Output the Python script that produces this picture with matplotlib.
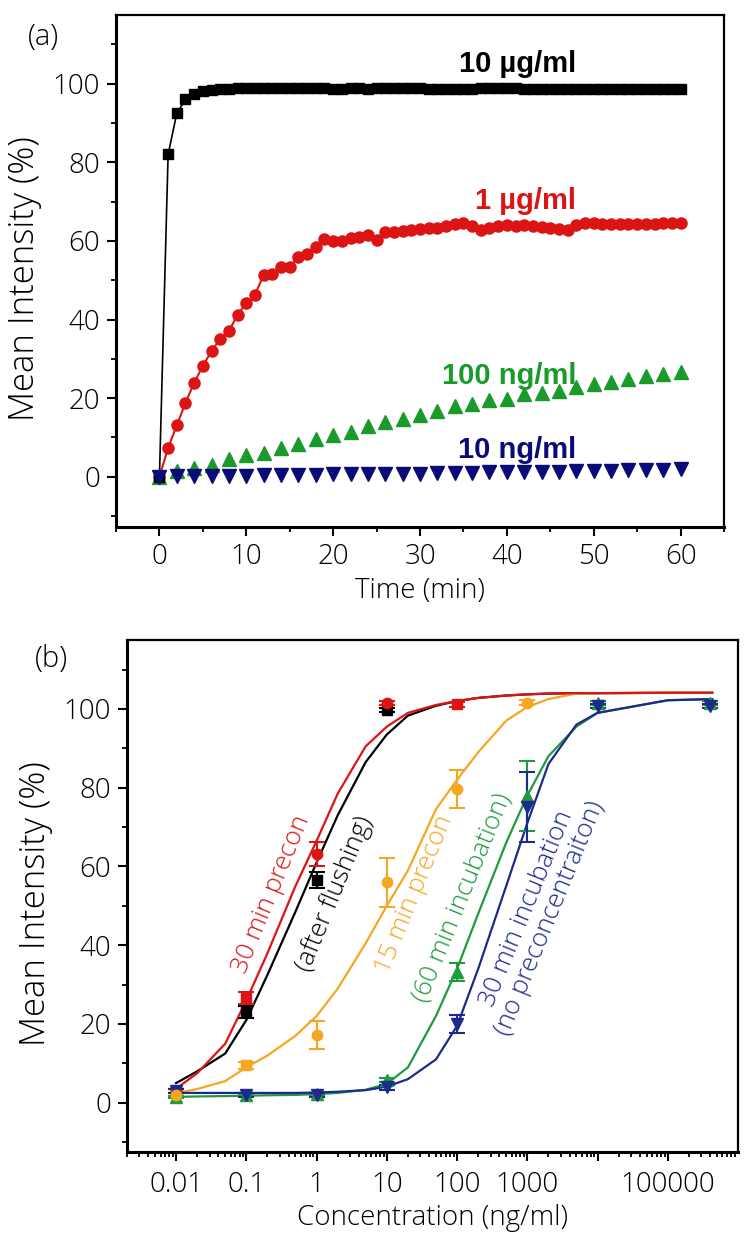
import numpy as np
import matplotlib
matplotlib.use("Agg")
import matplotlib.pyplot as plt
from matplotlib.ticker import MultipleLocator, LogLocator, FixedLocator, NullFormatter

# ---------------- data: panel (a) ----------------
t_1min = list(range(0, 61))
t_2min = list(range(0, 61, 2))

y_10ug = [0, 82, 92.5, 96, 97.5, 98.2, 98.5, 98.6, 98.7, 98.8, 98.8, 98.8, 98.9, 98.8, 98.8, 98.8,
          98.9, 98.8, 98.8, 98.8, 98.7, 98.7, 98.8, 98.8, 98.7, 98.8, 98.8, 98.8, 98.8, 98.8, 98.8,
          98.7, 98.7, 98.7, 98.7, 98.7, 98.7, 98.8, 98.8, 98.8, 98.8, 98.8, 98.7, 98.7, 98.7, 98.7,
          98.7, 98.7, 98.7, 98.7, 98.7, 98.7, 98.7, 98.7, 98.6, 98.6, 98.6, 98.6, 98.6, 98.6, 98.6]
y_1ug = [0, 7.3, 13.1, 18.8, 23.9, 28.2, 32.0, 35.0, 37.1, 41.2, 44.1, 46.3, 51.4, 51.6, 53.4, 53.4,
         56.0, 56.7, 58.5, 60.5, 59.9, 60.1, 60.8, 61.1, 61.6, 60.3, 62.2, 62.2, 62.6,
         62.8, 63.0, 63.2, 63.4, 63.8, 64.2, 64.5, 63.8, 62.8, 63.3, 63.8, 64.0, 63.9, 64.0, 63.8,
         63.6, 63.4, 63.0, 62.8, 64.0, 64.6, 64.5, 64.3, 64.2, 64.3, 64.4, 64.3, 64.2, 64.4, 64.6,
         64.6, 64.5]
y_100ng = [0, 1.4, 2.2, 3.1, 4.4, 5.5, 6.1, 7.3, 8.2, 9.5, 10.6, 11.4, 12.9, 14.0, 14.8, 15.7,
           16.7, 18.0, 18.4, 19.4, 19.7, 21.1, 21.4, 21.8, 22.8, 23.5, 24.2, 24.8, 25.6, 26.2, 26.7]
y_10ng = [0, 0.1, 0.2, 0.2, 0.3, 0.3, 0.4, 0.4, 0.5, 0.5, 0.6, 0.6, 0.7, 0.7, 0.8, 0.8, 0.9, 1.0,
          1.0, 1.1, 1.1, 1.2, 1.3, 1.3, 1.4, 1.5, 1.5, 1.6, 1.7, 1.8, 1.9]
labels_a = ["10 \u00b5g/ml", "1 \u00b5g/ml", "100 ng/ml", "10 ng/ml"]

# ---------------- data: panel (b) ----------------
conc = [0.01, 0.1, 1, 10, 100, 1000, 1e4, 4e5]

red_x = [0.01, 0.1, 1, 10, 100]
red_y = [3.0, 26.7, 63.2, 101.6, 101.2]
red_e = [0.5, 1.5, 3.0, 0.5, 0.6]
red_m = ['o', 's', 'o', 'o', 's']

blk_x = [0.01, 0.1, 1, 10]
blk_y = [3.0, 23.1, 56.6, 99.7]
blk_e = [0.5, 1.5, 2.0, 0.5]

org_x = [0.01, 0.1, 1, 10, 100, 1000]
org_y = [1.9, 9.5, 17.2, 56.0, 79.7, 101.6]
org_e = [0.5, 0.8, 3.6, 6.2, 4.8, 0.6]
org_m = ['o', 's', 'o', 'o', 'o', 'o']

grn_x = conc
grn_y = [1.5, 2.0, 2.2, 5.7, 33.2, 78.0, 101.6, 101.6]
grn_e = [0.3, 0.3, 0.3, 0.5, 2.3, 8.9, 0.5, 0.5]

blu_x = conc
blu_y = [3.0, 1.9, 2.0, 3.9, 20.1, 75.0, 100.8, 100.8]
blu_e = [0.5, 0.5, 0.5, 0.6, 2.3, 8.9, 0.5, 0.5]

# fitted curves
fit_x = [0.01, 0.02, 0.05, 0.1, 0.2, 0.5, 1, 2, 5, 10, 20, 50, 100, 200, 500, 1000, 2000, 5000,
         1e4, 1e5, 4.3e5]
fit_red = [3.6, 7.5, 15, 26, 38, 55, 66.5, 78.5, 90.5, 95.5, 99, 101, 102, 102.8, 103.4, 103.7,
           103.9, 104, 104, 104.1, 104.1]
fit_blk = [5.0, 8.0, 12.5, 21, 32.5, 48.5, 61, 73, 86.5, 93.5, 98.3, 100.8, 102, 102.8, 103.4,
           103.7, 103.9, 104, 104, 104.1, 104.1]
fit_org = [2.4, 3.5, 5.5, 9, 12, 17, 22, 29, 40.5, 50, 59, 74.5, 82, 89, 97, 100.5, 102.5, 103.9,
           104, 104.1, 104.1]
fit_grn = [1.5, 1.6, 1.7, 1.8, 1.9, 2.0, 2.2, 2.5, 3.3, 4.8, 9, 22, 34, 48, 66, 78, 88, 95.5, 99,
           102.2, 102.5]
fit_blu = [2.5, 2.5, 2.5, 2.5, 2.5, 2.5, 2.6, 2.8, 3.2, 4.1, 6, 11, 19.5, 34, 55, 71, 86, 96, 99,
           102.2, 102.5]
labels_b = ["30 min precon", "(after flushing)", "15 min precon", "(60 min incubation)",
            "30 min incubation\n(no preconcentraiton)"]

# ---------------- style ----------------
plt.rcParams['font.family'] = ['Open Sans', 'DejaVu Sans']
plt.rcParams['font.weight'] = 'light'
plt.rcParams['axes.labelweight'] = 'light'
TICKFS = 20
C_RED = '#dc1414'
C_GRN_A = '#1a9a2a'
C_NAV_A = '#0a0a78'
C_ORG = '#f5a623'
C_GRN_B = '#1f9a3c'
C_BLU_B = '#1c2a8c'
BOLD = ['Liberation Sans', 'DejaVu Sans']

fig = plt.figure(figsize=(7.52, 12.45), dpi=100)
axA = fig.add_axes([116/752, 1-527/1245, 608/752, 512/1245])
axB = fig.add_axes([127/752, 1-1152/1245, 611/752, 512/1245])


def style_axes(ax):
    for side in ['left', 'bottom']:
        ax.spines[side].set_linewidth(2.2)
    for side in ['top', 'right']:
        ax.spines[side].set_linewidth(1.6)
    ax.tick_params(which='major', direction='out', length=6.5, width=1.5, labelsize=TICKFS,
                   top=False, right=False, pad=5)
    ax.tick_params(which='minor', direction='out', length=3.8, width=1.3, top=False, right=False)


# ---------------- panel (a) ----------------
axA.plot(t_1min, y_1ug, '-', color=C_RED, lw=1.5, marker='o', ms=8, mec=C_RED, mfc=C_RED, zorder=3)
axA.plot(t_1min, y_10ug, '-', color='black', lw=1.2, marker='s', ms=7.5, mec='black', mfc='black', zorder=4)
axA.plot(t_2min, y_100ng, ls='none', marker='^', ms=9.5, color=C_GRN_A, zorder=3)
axA.plot(t_2min, y_10ng, ls='none', marker='v', ms=9.5, color=C_NAV_A, zorder=5)

axA.set_xlim(-5, 65)
axA.set_ylim(-12.8, 117.5)
axA.xaxis.set_major_locator(MultipleLocator(10))
axA.xaxis.set_minor_locator(MultipleLocator(5))
axA.yaxis.set_major_locator(FixedLocator([0, 20, 40, 60, 80, 100]))
axA.yaxis.set_minor_locator(FixedLocator([-10, 10, 30, 50, 70, 90, 110]))
style_axes(axA)
axA.set_xlabel("Time (min)", fontsize=20, labelpad=4)
axA.set_ylabel("Mean Intensity (%)", fontsize=25)
axA.yaxis.set_label_coords(-0.122, 0.485)

lab_fs = 21
axA.text(48, 103.0, labels_a[0], ha='right', va='baseline', fontsize=lab_fs, fontweight='bold',
         family=BOLD, color='black')
axA.text(48, 68.2, labels_a[1], ha='right', va='baseline', fontsize=lab_fs, fontweight='bold',
         family=BOLD, color=C_RED)
axA.text(48, 23.6, labels_a[2], ha='right', va='baseline', fontsize=lab_fs, fontweight='bold',
         family=BOLD, color=C_GRN_A)
axA.text(48, 4.7, labels_a[3], ha='right', va='baseline', fontsize=lab_fs, fontweight='bold',
         family=BOLD, color=C_NAV_A)
fig.text(43/752, 1-37/1245, "(a)", ha='center', va='center', fontsize=21)

# ---------------- panel (b) ----------------
axB.set_xscale('log')
axB.plot(fit_x, fit_blk, '-', color='black', lw=1.6, zorder=2)
axB.plot(fit_x, fit_org, '-', color=C_ORG, lw=1.6, zorder=2)
axB.plot(fit_x, fit_red, '-', color=C_RED, lw=1.6, zorder=2)
axB.plot(fit_x, fit_grn, '-', color=C_GRN_B, lw=1.6, zorder=2)
axB.plot(fit_x, fit_blu, '-', color=C_BLU_B, lw=1.6, zorder=2)

eb = dict(ls='none', elinewidth=1.5, capsize=6, capthick=1.5, zorder=3)
axB.errorbar(blk_x, blk_y, yerr=blk_e, color='black', **eb)
axB.plot(blk_x, blk_y, ls='none', marker='s', ms=7.5, color='black', zorder=4)
axB.errorbar(red_x, red_y, yerr=red_e, color=C_RED, **eb)
for xv, yv, mk in zip(red_x, red_y, red_m):
    axB.plot([xv], [yv], ls='none', marker=mk, ms=7.5, color=C_RED, zorder=4)
axB.errorbar(org_x, org_y, yerr=org_e, color=C_ORG, **eb)
for xv, yv, mk in zip(org_x, org_y, org_m):
    axB.plot([xv], [yv], ls='none', marker=mk, ms=7.5, color=C_ORG, zorder=5)
axB.errorbar(grn_x, grn_y, yerr=grn_e, color=C_GRN_B, **eb)
axB.plot(grn_x, grn_y, ls='none', marker='^', ms=8.5, color=C_GRN_B, zorder=4)
axB.errorbar(blu_x, blu_y, yerr=blu_e, color=C_BLU_B, **eb)
axB.plot(blu_x, blu_y, ls='none', marker='v', ms=8.5, color=C_BLU_B, zorder=4)

axB.set_xlim(0.002, 1e6)
axB.set_ylim(-12.5, 117.5)
axB.xaxis.set_major_locator(FixedLocator([1e-2, 1e-1, 1, 10, 100, 1000, 1e4, 1e5]))
axB.xaxis.set_minor_locator(LogLocator(base=10, subs=np.arange(2, 10), numticks=30))
axB.xaxis.set_minor_formatter(NullFormatter())
axB.set_xticklabels(["0.01", "0.1", "1", "10", "100", "1000", "", "100000"])
axB.yaxis.set_major_locator(FixedLocator([0, 20, 40, 60, 80, 100]))
axB.yaxis.set_minor_locator(FixedLocator([-10, 10, 30, 50, 70, 90, 110]))
style_axes(axB)
axB.tick_params(axis='x', which='major', pad=7)
axB.set_xlabel("Concentration (ng/ml)", fontsize=20, labelpad=4)
axB.set_ylabel("Mean Intensity (%)", fontsize=25)
axB.yaxis.set_label_coords(-0.121, 0.485)

rot = 67.7
bfs = 18.5
axB.text(0.225, 53, labels_b[0], rotation=rot, rotation_mode='anchor', ha='center', va='center',
         fontsize=bfs, color=C_RED)
axB.text(1.79, 53, labels_b[1], rotation=rot, rotation_mode='anchor', ha='center', va='center',
         fontsize=bfs, color='black')
axB.text(24.8, 53, labels_b[2], rotation=rot, rotation_mode='anchor', ha='center', va='center',
         fontsize=bfs, color=C_ORG)
axB.text(117, 52, labels_b[3], rotation=rot, rotation_mode='anchor', ha='center', va='center',
         fontsize=bfs, color=C_GRN_B)
axB.text(1430, 48, labels_b[4], rotation=rot, rotation_mode='anchor', ha='center', va='center',
         fontsize=bfs, color=C_BLU_B, multialignment='center', linespacing=1.0)
fig.text(51/752, 1-659/1245, "(b)", ha='center', va='center', fontsize=21)

fig.savefig("out.png", dpi=100)
